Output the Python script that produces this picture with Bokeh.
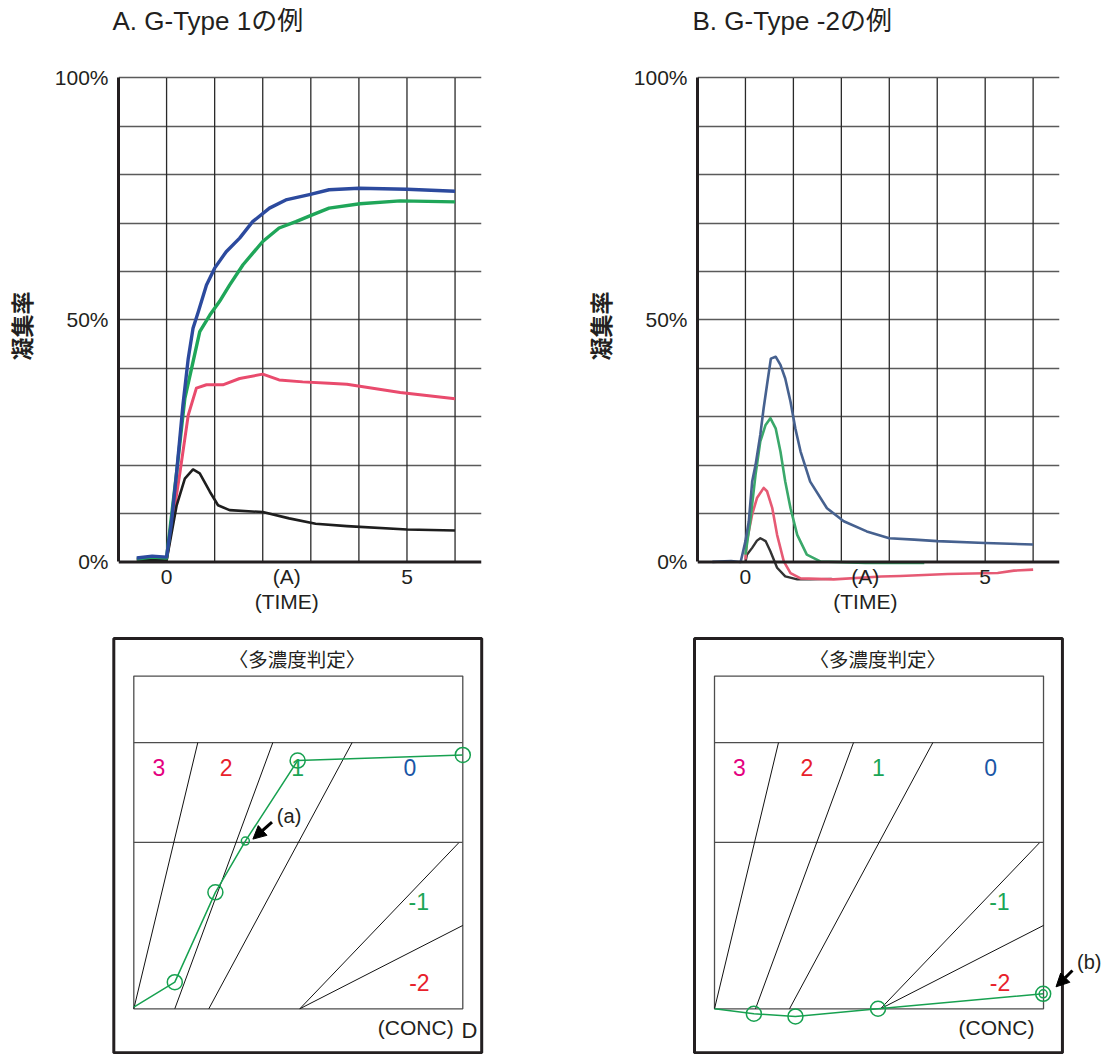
from bokeh.plotting import figure
from bokeh.layouts import column, row
from bokeh.models import Range1d, FixedTicker, Arrow, NormalHead, Span
from bokeh.core.properties import value
from bokeh.embed import file_html
from bokeh.resources import INLINE

LAT = "Liberation Sans"
MIX = "Liberation Sans, Noto Sans CJK JP"
JP = "Noto Sans CJK JP"
INK = "#231f20"

# ---------------- data: top charts (time, aggregation %) ----------------
titles = ["A. G-Type 1の例", "B. G-Type -2の例"]
y_label = "凝集率"
y_ticks = [0, 50, 100]
y_tick_labels = {0: "0%", 50: "50%", 100: "100%"}
x_ticks = [0, 2.5, 5]
x_tick_labels = ["0", "(A)", "5"]
x_title = "(TIME)"
hgrid = [10, 20, 30, 40, 50, 60, 70, 80, 90, 100]
vgrid = [0, 1, 2, 3, 4, 5, 6]

a_blue_t = [-0.62, -0.3, 0.0, 0.1, 0.21, 0.34, 0.45, 0.55, 0.66, 0.83, 1.0, 1.24, 1.52, 1.79, 2.14, 2.48, 2.97, 3.38, 4.0, 5.0, 6.0]
a_blue_v = [0.8, 1.2, 1.0, 8.0, 18.6, 32.4, 42.0, 48.3, 51.7, 57.2, 60.7, 64.1, 66.9, 70.3, 73.1, 74.8, 75.9, 76.9, 77.2, 77.0, 76.6]
a_green_t = [-0.62, -0.3, 0.0, 0.21, 0.38, 0.52, 0.69, 0.9, 1.1, 1.31, 1.59, 2.0, 2.34, 2.69, 3.03, 3.38, 4.02, 4.86, 6.0]
a_green_v = [0.6, 1.0, 0.8, 18.6, 33.8, 40.0, 47.6, 51.0, 53.8, 57.2, 61.4, 66.2, 69.0, 70.3, 71.7, 73.1, 74.0, 74.6, 74.4]
a_red_t = [-0.62, 0.0, 0.28, 0.45, 0.62, 0.83, 1.17, 1.52, 2.0, 2.34, 2.83, 3.38, 3.75, 4.86, 6.0]
a_red_v = [0.5, 0.5, 18.6, 30.3, 35.9, 36.6, 36.6, 37.9, 38.8, 37.6, 37.2, 36.9, 36.7, 35.0, 33.7]
a_black_t = [-0.62, 0.0, 0.21, 0.38, 0.55, 0.69, 0.9, 1.07, 1.31, 2.0, 2.55, 3.1, 3.75, 5.0, 6.0]
a_black_v = [0.5, 0.3, 11.7, 17.2, 19.1, 18.3, 14.5, 11.7, 10.7, 10.3, 9.0, 7.9, 7.4, 6.7, 6.5]

b_blue_t = [-0.69, -0.3, -0.1, 0.0, 0.07, 0.14, 0.21, 0.31, 0.38, 0.45, 0.53, 0.63, 0.73, 0.83, 0.94, 1.04, 1.15, 1.35, 1.7, 2.05, 2.53, 3.0, 3.52, 4.0, 5.0, 6.0]
b_blue_v = [0.0, 0.2, 0.0, 4.3, 8.4, 16.6, 20.0, 26.3, 31.8, 36.6, 42.0, 42.4, 40.7, 37.9, 33.1, 27.6, 22.8, 16.6, 11.1, 8.4, 6.3, 4.9, 4.6, 4.3, 3.9, 3.6]
b_green_t = [0.0, 0.1, 0.21, 0.31, 0.42, 0.52, 0.63, 0.73, 0.83, 0.94, 1.08, 1.28, 1.56, 2.5, 3.73]
b_green_v = [1.5, 8.4, 18.0, 24.9, 28.3, 29.7, 27.6, 22.8, 16.6, 11.1, 5.6, 1.5, 0.1, -0.2, -0.2]
b_red_t = [0.0, 0.03, 0.14, 0.24, 0.38, 0.45, 0.56, 0.66, 0.8, 0.94, 1.15, 1.84, 2.83, 3.23, 4.22, 5.26, 5.6, 6.0]
b_red_v = [0.5, 4.3, 9.8, 13.2, 15.3, 14.6, 11.1, 5.6, 0.1, -2.3, -3.4, -3.6, -3.0, -2.9, -2.5, -2.3, -1.8, -1.6]
b_black_t = [0.0, 0.03, 0.14, 0.24, 0.31, 0.42, 0.52, 0.66, 0.83, 1.08, 1.35, 1.8]
b_black_v = [0.0, 1.5, 2.9, 4.4, 4.9, 4.3, 2.2, -1.2, -3.0, -3.6, -3.6, -3.5]

# ---------------- data: multi-concentration judgement diagrams ----------------
diag_title = "〈多濃度判定〉"
conc_label = "(CONC)"
band_y = [5, 8]
bound_x0 = [0.0, 1.246, 2.28, 5.046, 5.046]
bound_y0 = [0, 0, 0, 0, 0]
bound_x1 = [1.945, 4.225, 6.636, 9.878, 10.0]
bound_y1 = [8, 8, 8, 4.99, 2.505]
zone_labels = ["3", "2", "1", "0", "-1", "-2"]
zone_x = [0.76, 2.81, 4.98, 8.39, 8.66, 8.68]
zone_y = [7.26, 7.26, 7.26, 7.26, 3.21, 0.80]
zone_colors = ["#e4007f", "#e8212b", "#1ba556", "#1a56a6", "#1ba556", "#e8212b"]

a_path_x = [0.0, 1.246, 2.48, 3.39, 4.98, 10.0]
a_path_y = [0.05, 0.80, 3.50, 5.04, 7.46, 7.63]
a_big_x = [1.246, 2.48, 4.98, 10.0]
a_big_y = [0.80, 3.50, 7.46, 7.63]
a_small_x = [3.39]
a_small_y = [5.04]

b_path_x = [0.0, 1.197, 2.46, 4.97, 9.99]
b_path_y = [0.0, -0.15, -0.23, 0.0, 0.45]
b_big_x = [1.197, 2.46, 4.97, 9.99]
b_big_y = [-0.15, -0.23, 0.0, 0.45]
b_small_x = [9.99]
b_small_y = [0.45]

GREEN = "#17a150"


def top_chart(title, curves, width, left_b, right_b, title_off):
    p = figure(width=width, height=634, x_range=Range1d(-1, 6.55), y_range=Range1d(-11.07, 108.56),
               x_axis_type=None, output_backend="svg", toolbar_location=None,
               min_border_left=left_b, min_border_right=right_b,
               min_border_top=36, min_border_bottom=19, outline_line_color=None)
    p.title.text = title
    p.title.text_font = MIX
    p.title.text_font_size = "26px"
    p.title.text_font_style = "normal"
    p.title.text_color = INK
    p.title.offset = title_off
    p.title.standoff = 2

    yax = p.yaxis[0]
    yax.ticker = FixedTicker(ticks=y_ticks)
    yax.major_label_overrides = y_tick_labels
    yax.bounds = (0, 100)
    yax.axis_line_width = 3
    yax.axis_line_color = INK
    yax.major_tick_in = 0
    yax.major_tick_out = 0
    yax.minor_tick_line_color = None
    yax.major_tick_line_color = None
    yax.major_label_standoff = 10
    yax.major_label_text_font = LAT
    yax.major_label_text_font_size = "21px"
    yax.major_label_text_color = INK
    yax.axis_label = y_label
    yax.axis_label_text_font = JP
    yax.axis_label_text_font_size = "23px"
    yax.axis_label_text_font_style = "bold"
    yax.axis_label_text_color = INK
    yax.axis_label_standoff = 14

    p.ygrid.ticker = FixedTicker(ticks=hgrid)
    p.ygrid.grid_line_color = "#5a5a5a"
    p.ygrid.grid_line_width = 1.6

    p.segment(x0=vgrid, y0=[0] * len(vgrid), x1=vgrid, y1=[100] * len(vgrid),
              line_color="#2a2a2a", line_width=1.3)
    for t, v, c, w in curves:
        p.line(t, v, line_color=c, line_width=w, line_join="round")
    p.add_layout(Span(location=0, dimension="width", line_color=INK, line_width=3))
    p.text(x=x_ticks, y=[-3.1] * len(x_ticks), text=x_tick_labels, text_font=value(LAT),
           text_font_size=value("21px"), text_align="center", text_baseline="middle", text_color=INK)
    p.text(x=[2.5], y=[-8.2], text=[x_title], text_font=value(LAT),
           text_font_size=value("21px"), text_align="center", text_baseline="middle", text_color=INK)
    return p


pa = top_chart(titles[0], [
    (a_red_t, a_red_v, "#e94b6d", 3),
    (a_black_t, a_black_v, "#1e1e1e", 2.6),
    (a_green_t, a_green_v, "#1fa659", 3.4),
    (a_blue_t, a_blue_v, "#2c4a9e", 3.4),
], 575, 118, 94, -6)

pb = top_chart(titles[1], [
    (b_black_t, b_black_v, "#333333", 2.4),
    (b_red_t, b_red_v, "#e65a74", 2.6),
    (b_green_t, b_green_v, "#3aa86a", 2.6),
    (b_blue_t, b_blue_v, "#46618f", 2.6),
], 530, 122, 46, -5)


def diagram(width, x0, x1, path_x, path_y, big_x, big_y, small_x, small_y):
    q = figure(width=width, height=420, x_range=Range1d(x0, x1), y_range=Range1d(-1.374, 11.25),
               x_axis_type=None, y_axis_type=None, min_border=0,
               min_border_left=0, min_border_right=0, min_border_top=0, min_border_bottom=0,
               outline_line_color=None, output_backend="svg", toolbar_location=None)
    q.grid.visible = False
    q.quad(left=[-0.608], right=[10.575], top=[11.13], bottom=[-1.322],
           fill_color=None, line_color=INK, line_width=3)
    q.quad(left=[0], right=[10], top=[10], bottom=[0], fill_color=None,
           line_color="#4d4d4d", line_width=1.3)
    q.segment(x0=[0, 0], y0=band_y, x1=[10, 10], y1=band_y, line_color="#4d4d4d", line_width=1.3)
    q.segment(x0=bound_x0, y0=bound_y0, x1=bound_x1, y1=bound_y1, line_color="#111111", line_width=1)
    q.text(x=[4.96], y=[10.52], text=[diag_title], text_font=value(JP), text_font_size=value("19.5px"),
           text_align="center", text_baseline="middle", text_color=INK)
    q.text(x=zone_x, y=zone_y, text=zone_labels, text_color=zone_colors, text_font=value(LAT),
           text_font_size=value("23px"), text_align="center", text_baseline="middle")
    q.line(path_x, path_y, line_color=GREEN, line_width=1.5)
    q.scatter(big_x, big_y, marker="circle", size=15, fill_color=None, line_color=GREEN, line_width=1.5)
    q.scatter(small_x, small_y, marker="circle", size=8, fill_color=None, line_color=GREEN, line_width=1.5)
    q.text(x=[8.57], y=[-0.55], text=[conc_label], text_font=value(LAT), text_font_size=value("21px"),
           text_align="center", text_baseline="middle", text_color=INK)
    return q


qa = diagram(575, -4.052, 13.426, a_path_x, a_path_y, a_big_x, a_big_y, a_small_x, a_small_y)
qa.text(x=[10.2], y=[-0.66], text=["D"], text_font=value(LAT), text_font_size=value("22px"),
        text_align="center", text_baseline="middle", text_color=INK)
qa.text(x=[4.72], y=[5.8], text=["(a)"], text_font=value(LAT), text_font_size=value("20px"),
        text_align="center", text_baseline="middle", text_color=INK)
qa.add_layout(Arrow(end=NormalHead(size=13, fill_color="black", line_color="black"),
                    x_start=4.2, y_start=5.61, x_end=3.62, y_end=5.1, line_width=3, line_color="black"))

qb = diagram(530, -4.225, 11.884, b_path_x, b_path_y, b_big_x, b_big_y, b_small_x, b_small_y)
qb.text(x=[11.39], y=[1.42], text=["(b)"], text_font=value(LAT), text_font_size=value("20px"),
        text_align="center", text_baseline="middle", text_color=INK)
qb.add_layout(Arrow(end=NormalHead(size=13, fill_color="black", line_color="black"),
                    x_start=10.88, y_start=1.15, x_end=10.38, y_end=0.66, line_width=3, line_color="black"))

layout = column(row(pa, pb), row(qa, qb))
open("out.html", "w").write(file_html(layout, INLINE))
